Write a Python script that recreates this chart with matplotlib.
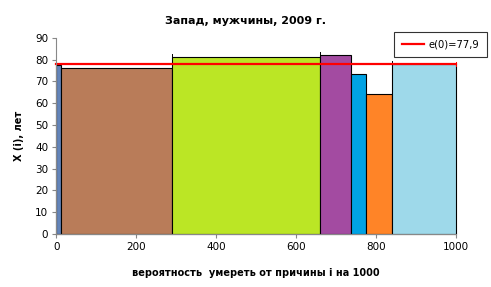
import matplotlib.pyplot as plt
import numpy as np

# probability of dying from cause i (per 1000) and life expectancy per cause group
probs = [12, 278, 370, 78, 37, 66, 159]
heights = [77.5, 76.1, 81.1, 82.0, 73.5, 64.1, 77.8]
colors = ['#6384B9', '#B97C59', '#BBE625', '#A34BA1', '#00A2E4', '#FF8427', '#9ED9EA']
e0 = 77.9

plt.rcParams['font.family'] = 'DejaVu Sans'

fig = plt.figure(figsize=(4.91, 2.87), dpi=100)
ax = fig.add_axes([0.115, 0.185, 0.8135, 0.683])

lefts = np.concatenate([[0], np.cumsum(probs)[:-1]])
bars = ax.bar(lefts, heights, width=probs, align='edge', color=colors,
              edgecolor='black', linewidth=0.8, zorder=2)
for b in bars:
    b.set_clip_on(False)

# little edge marks sticking out above some bars
for i in [2, 3, 6]:
    ax.plot([lefts[i], lefts[i]], [heights[i], heights[i] + 1.4],
            color='black', linewidth=0.7, zorder=3)

ax.plot([0, 1000], [e0, e0], color='#FF0000', linewidth=1.6, zorder=4,
        label='e(0)=77,9', clip_on=False)
ax.plot([1000, 1000], [e0 - 0.8, e0 + 0.8], color='#FF0000', linewidth=0.7,
        zorder=4, clip_on=False)

ax.set_xlim(0, 1000)
ax.set_ylim(0, 90)
ax.set_xticks([0, 200, 400, 600, 800, 1000])
ax.set_yticks(range(0, 91, 10))
ax.tick_params(labelsize=7.5, length=3, color='#888888', width=0.8, pad=3)
for s in ['top', 'right']:
    ax.spines[s].set_visible(False)
for s in ['left', 'bottom']:
    ax.spines[s].set_color('#888888')
    ax.spines[s].set_linewidth(0.8)
    ax.spines[s].set_zorder(5)

ax.set_xlabel('вероятность  умереть от причины i на 1000', fontsize=7,
              fontweight='bold', labelpad=11)
ax.set_ylabel('X (i), лет', fontsize=7, fontweight='bold', labelpad=8)
fig.suptitle('Запад, мужчины, 2009 г.', fontsize=8, fontweight='bold', y=0.945)

leg = ax.legend(loc='upper right', bbox_to_anchor=(0.992, 0.889),
                bbox_transform=fig.transFigure, borderaxespad=0, fontsize=7.2,
                frameon=True, fancybox=False, handlelength=2.2, borderpad=0.75,
                handletextpad=0.5)
leg.get_frame().set_edgecolor('black')
leg.get_frame().set_linewidth(0.8)

fig.savefig('out.png', dpi=100)
